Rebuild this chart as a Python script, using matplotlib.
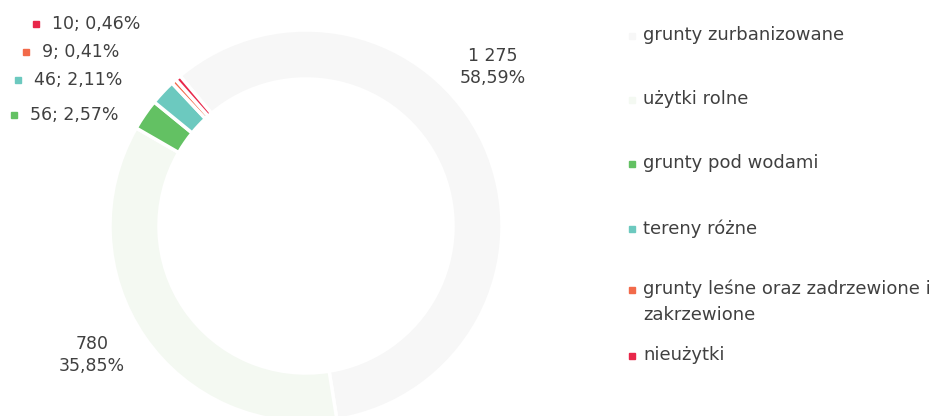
import matplotlib
matplotlib.use("Agg")
import matplotlib.pyplot as plt
from matplotlib.patches import Rectangle

# data
categories = ['grunty zurbanizowane', 'użytki rolne', 'grunty pod wodami',
              'tereny różne', 'grunty leśne oraz zadrzewione i\nzakrzewione', 'nieużytki']
values = [1275, 780, 56, 46, 9, 10]
colors = ['#f7f7f7', '#f4f9f2', '#63c163', '#6cc9bf', '#f26a4a', '#e8274a']

W, H = 953, 416
plt.rcParams['font.family'] = ['DejaVu Sans']
text_color = '#404040'
fs = 12.5

fig = plt.figure(figsize=(W / 100, H / 100), dpi=100)

# donut: centre (306, 226) px, outer radius 196 px
cx, cy, r = 306, 226, 196
ax = fig.add_axes([(cx - r) / W, (H - cy - r) / H, 2 * r / W, 2 * r / H])
wedges, _ = ax.pie(values, colors=colors, startangle=130, counterclock=False,
                   radius=1, wedgeprops=dict(width=0.25, edgecolor='white', linewidth=2.5))
ax.set_xlim(-1, 1)
ax.set_ylim(-1, 1)
ax.set_aspect('equal')
ax.axis('off')

total = sum(values)


def fmt_num(v):
    return f"{v:,}".replace(',', ' ')


def fmt_pct(v):
    return f"{v / total * 100:.2f}%".replace('.', ',')


def px(x, y):
    return x / W, 1 - y / H


# big slice labels (no marker), positions in px
big_pos = {0: (493, 67), 1: (92, 355)}
for i, (x, y) in big_pos.items():
    fig.text(*px(x, y), f"{fmt_num(values[i])}\n{fmt_pct(values[i])}", ha='center', va='center',
             fontsize=fs, color=text_color, linespacing=1.25)

# small slice labels with colour keys
small_pos = {5: (36, 24), 4: (26, 52), 3: (18, 80), 2: (14, 115)}
for i, (x, y) in small_pos.items():
    fig.patches.append(Rectangle(px(x - 3, y + 3), 6 / W, 6 / H, transform=fig.transFigure,
                                 color=colors[i], figure=fig))
    fig.text(*px(x + 16, y), f"{fmt_num(values[i])}; {fmt_pct(values[i])}", ha='left', va='center',
             fontsize=fs, color=text_color)

# legend
legend_y = [36, 100, 164, 229, 290, 356]
for i, name in enumerate(categories):
    y = legend_y[i]
    fig.patches.append(Rectangle(px(629, y + 3), 6 / W, 6 / H, transform=fig.transFigure,
                                 color=colors[i], figure=fig))
    fig.text(*px(643, y - 10), name, ha='left', va='top', fontsize=13,
             color=text_color, linespacing=1.55)

fig.savefig('out.png', dpi=100, facecolor='white')
